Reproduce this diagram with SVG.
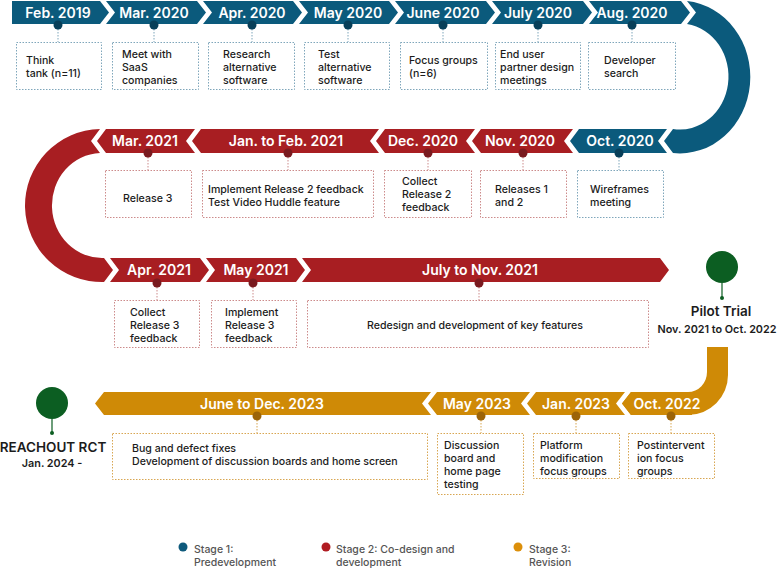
<svg xmlns="http://www.w3.org/2000/svg" width="777" height="568" viewBox="0 0 777 568">
<style>
text{font-family:Inter,"Liberation Sans",sans-serif}
.hd{font-size:14px;font-weight:600;fill:#fff;text-anchor:middle}
.tx{font-size:10.6px;font-weight:500;fill:#1c1c1c}
.c{text-anchor:middle}
.s1{fill:#0b5a7c}.s2{fill:#a81e22}.s3{fill:#cf8a06}
.d1{fill:#083f59}.d2{fill:#7a1b20}.d3{fill:#9c6409}
.box{fill:#fff;stroke-width:1;stroke-dasharray:1.5 1.5}
.k1{stroke:#7fa6bb}.k2{stroke:#cc8b8b}.k3{stroke:#d8a652}
.ln{fill:none;stroke-width:1;stroke-dasharray:1.5 1.5}
.gr{fill:#0c5e22}
.big{font-size:13.5px;font-weight:600;fill:#1c1c1c;text-anchor:middle}
.sub{font-size:10.8px;font-weight:600;fill:#1c1c1c;text-anchor:middle}
.lg{font-size:10.5px;font-weight:500;fill:#555}
</style>

<g id="track">
<path class="s1" d="M687,1 A70,76 0 0 1 673,153 L664,141 L673,129 A48,52.5 0 0 0 687,24 L696,12.5 Z"/>
<path class="s2" d="M100,129 L91,141 L100,153 A50,52.5 0 0 0 104,258 L113,270 L104,282 A77,76.5 0 0 1 100,129 Z"/>
<path class="s3" d="M707,347 L728,347 L728,375 A40,40 0 0 1 688,415 L631,415 L622,403.5 L631,392 L688,392 A19,20 0 0 0 707,372 Z"/>
</g>

<g id="connectors">
<path class="ln k1" d="M58,29V42M154,29V42M252,29V42M348,29V42M443,29V42M538,29V42M632,29V42M619,157V170"/>
<path class="ln k2" d="M523,157V170M428,157V170M288,157V170M148,157V170M157,287V300M253,287V300M479,287V300"/>
<path class="ln k3" d="M671,420V433M576,420V433M481,420V433M257,420V433"/>
<path d="M722,283V297M52,419V432" stroke="#0c5e22" stroke-width="1.2"/>
</g>

<g id="feb2019">
<polygon class="s1" points="12,1 100,1 109,12.5 100,24 12,24"/>
<text class="hd" x="58" y="17.5">Feb. 2019</text>
<circle class="d1" cx="58" cy="25" r="4.5"/>
<rect class="box k1" x="16.5" y="42.5" width="85" height="47"/>
<text class="tx" x="26" y="64">Think</text><text class="tx" x="26" y="77">tank (n=11)</text>
</g>
<g id="mar2020">
<polygon class="s1" points="106,1 197,1 206,12.5 197,24 106,24 115,12.5"/>
<text class="hd" x="154" y="17.5">Mar. 2020</text>
<circle class="d1" cx="154" cy="25" r="4.5"/>
<rect class="box k1" x="112.5" y="42.5" width="86" height="47"/>
<text class="tx" x="122" y="58">Meet with</text><text class="tx" x="122" y="71">SaaS</text><text class="tx" x="122" y="84">companies</text>
</g>
<g id="apr2020">
<polygon class="s1" points="203,1 293,1 302,12.5 293,24 203,24 212,12.5"/>
<text class="hd" x="252" y="17.5">Apr. 2020</text>
<circle class="d1" cx="252" cy="25" r="4.5"/>
<rect class="box k1" x="208.5" y="42.5" width="86" height="47"/>
<text class="tx" x="223" y="58">Research</text><text class="tx" x="223" y="71">alternative</text><text class="tx" x="223" y="84">software</text>
</g>
<g id="may2020">
<polygon class="s1" points="299,1 389,1 398,12.5 389,24 299,24 308,12.5"/>
<text class="hd" x="348" y="17.5">May 2020</text>
<circle class="d1" cx="348" cy="25" r="4.5"/>
<rect class="box k1" x="304.5" y="42.5" width="85" height="47"/>
<text class="tx" x="318" y="58">Test</text><text class="tx" x="318" y="71">alternative</text><text class="tx" x="318" y="84">software</text>
</g>
<g id="jun2020">
<polygon class="s1" points="395,1 486,1 495,12.5 486,24 395,24 404,12.5"/>
<text class="hd" x="443" y="17.5">June 2020</text>
<circle class="d1" cx="443" cy="25" r="4.5"/>
<rect class="box k1" x="400.5" y="42.5" width="87" height="47"/>
<text class="tx" x="409" y="64">Focus groups</text><text class="tx" x="409" y="77">(n=6)</text>
</g>
<g id="jul2020">
<polygon class="s1" points="492,1 583,1 592,12.5 583,24 492,24 501,12.5"/>
<text class="hd" x="538" y="17.5">July 2020</text>
<circle class="d1" cx="538" cy="25" r="4.5"/>
<rect class="box k1" x="495.5" y="42.5" width="85" height="47"/>
<text class="tx" x="500" y="58">End user</text><text class="tx" x="500" y="71">partner design</text><text class="tx" x="500" y="84">meetings</text>
</g>
<g id="aug2020">
<polygon class="s1" points="589,1 681,1 690,12.5 681,24 589,24 598,12.5"/>
<text class="hd" x="632" y="17.5">Aug. 2020</text>
<circle class="d1" cx="632" cy="25" r="4.5"/>
<rect class="box k1" x="588.5" y="42.5" width="87" height="47"/>
<text class="tx" x="604" y="64">Developer</text><text class="tx" x="604" y="77">search</text>
</g>

<g id="oct2020">
<polygon class="s1" points="570,141 579,129 667,129 658,141 667,153 579,153"/>
<text class="hd" x="620" y="146">Oct. 2020</text>
<circle class="d1" cx="619" cy="153" r="4.5"/>
<rect class="box k1" x="577.5" y="170.5" width="86" height="47"/>
<text class="tx" x="590" y="193">Wireframes</text><text class="tx" x="590" y="206">meeting</text>
</g>
<g id="nov2020">
<polygon class="s2" points="472,141 481,129 573,129 564,141 573,153 481,153"/>
<text class="hd" x="520" y="146">Nov. 2020</text>
<circle class="d2" cx="523" cy="153" r="4.5"/>
<rect class="box k2" x="480.5" y="170.5" width="86" height="47"/>
<text class="tx" x="495" y="193">Releases 1</text><text class="tx" x="495" y="206">and 2</text>
</g>
<g id="dec2020">
<polygon class="s2" points="376,141 385,129 475,129 466,141 475,153 385,153"/>
<text class="hd" x="423" y="146">Dec. 2020</text>
<circle class="d2" cx="428" cy="153" r="4.5"/>
<rect class="box k2" x="384.5" y="170.5" width="87" height="47"/>
<text class="tx" x="402" y="185">Collect</text><text class="tx" x="402" y="198">Release 2</text><text class="tx" x="402" y="211">feedback</text>
</g>
<g id="janfeb2021">
<polygon class="s2" points="192,141 201,129 379,129 370,141 379,153 201,153"/>
<text class="hd" x="286" y="146">Jan. to Feb. 2021</text>
<circle class="d2" cx="288" cy="153" r="4.5"/>
<rect class="box k2" x="202.5" y="170.5" width="171" height="47"/>
<text class="tx" x="208" y="193">Implement Release 2 feedback</text><text class="tx" x="208" y="206">Test Video Huddle feature</text>
</g>
<g id="mar2021">
<polygon class="s2" points="97,141 106,129 195,129 186,141 195,153 106,153"/>
<text class="hd" x="145" y="146">Mar. 2021</text>
<circle class="d2" cx="148" cy="153" r="4.5"/>
<rect class="box k2" x="105.5" y="170.5" width="86" height="47"/>
<text class="tx" x="123" y="202">Release 3</text>
</g>

<g id="apr2021">
<polygon class="s2" points="110,258 200,258 209,270 200,282 110,282 119,270"/>
<text class="hd" x="159" y="275">Apr. 2021</text>
<circle class="d2" cx="157" cy="283" r="4.5"/>
<rect class="box k2" x="114.5" y="300.5" width="85" height="47"/>
<text class="tx" x="130" y="316">Collect</text><text class="tx" x="130" y="329">Release 3</text><text class="tx" x="130" y="342">feedback</text>
</g>
<g id="may2021">
<polygon class="s2" points="206,258 296,258 305,270 296,282 206,282 215,270"/>
<text class="hd" x="256" y="275">May 2021</text>
<circle class="d2" cx="253" cy="283" r="4.5"/>
<rect class="box k2" x="211.5" y="300.5" width="85" height="47"/>
<text class="tx" x="225" y="316">Implement</text><text class="tx" x="225" y="329">Release 3</text><text class="tx" x="225" y="342">feedback</text>
</g>
<g id="julnov2021">
<polygon class="s2" points="302,258 660,258 669,270 660,282 302,282 311,270"/>
<text class="hd" x="480" y="275">July to Nov. 2021</text>
<circle class="d2" cx="479" cy="283" r="4.5"/>
<rect class="box k2" x="307.5" y="300.5" width="341" height="47"/>
<text class="tx c" x="475" y="329">Redesign and development of key features</text>
</g>

<g id="pilot">
<circle class="gr" cx="722" cy="267" r="16"/>
<circle class="gr" cx="722" cy="298" r="2"/>
<text class="big" x="721" y="316">Pilot Trial</text>
<text class="sub" x="717" y="333">Nov. 2021 to Oct. 2022</text>
</g>

<g id="oct2022">
<polygon class="s3" points="622,403.5 631,392 692,392 692,415 631,415"/>
<text class="hd" x="667" y="408.5">Oct. 2022</text>
<circle class="d3" cx="671" cy="416" r="4.5"/>
<rect class="box k3" x="628.5" y="433.5" width="86" height="45"/>
<text class="tx" x="637" y="449">Postintervent</text><text class="tx" x="637" y="462">ion focus</text><text class="tx" x="637" y="475">groups</text>
</g>
<g id="jan2023">
<polygon class="s3" points="527,403.5 536,392 625,392 616,403.5 625,415 536,415"/>
<text class="hd" x="576" y="408.5">Jan. 2023</text>
<circle class="d3" cx="576" cy="416" r="4.5"/>
<rect class="box k3" x="533.5" y="433.5" width="86" height="45"/>
<text class="tx" x="540" y="449">Platform</text><text class="tx" x="540" y="462">modification</text><text class="tx" x="540" y="475">focus groups</text>
</g>
<g id="may2023">
<polygon class="s3" points="428,403.5 437,392 530,392 521,403.5 530,415 437,415"/>
<text class="hd" x="477" y="408.5">May 2023</text>
<circle class="d3" cx="481" cy="416" r="4.5"/>
<rect class="box k3" x="437.5" y="433.5" width="86" height="61"/>
<text class="tx" x="444" y="449">Discussion</text><text class="tx" x="444" y="462">board and</text><text class="tx" x="444" y="475">home page</text><text class="tx" x="444" y="488">testing</text>
</g>
<g id="junedec2023">
<polygon class="s3" points="95,403.5 104,392 431,392 422,403.5 431,415 104,415"/>
<text class="hd" x="262" y="408.5">June to Dec. 2023</text>
<circle class="d3" cx="257" cy="416" r="4.5"/>
<rect class="box k3" x="112.5" y="433.5" width="315" height="46"/>
<text class="tx" x="132" y="452">Bug and defect fixes</text><text class="tx" x="132" y="465">Development of discussion boards and home screen</text>
</g>

<g id="reachout">
<circle class="gr" cx="52" cy="403" r="16"/>
<circle class="gr" cx="52" cy="433" r="2"/>
<text class="big" x="53" y="452">REACHOUT RCT</text>
<text class="sub" x="52" y="467">Jan. 2024 -</text>
</g>

<g id="legend">
<circle cx="183" cy="547" r="4.5" fill="#0e5a7c"/>
<text class="lg" x="194" y="553">Stage 1:</text><text class="lg" x="194" y="566">Predevelopment</text>
<circle cx="326" cy="547" r="4.5" fill="#b01c22"/>
<text class="lg" x="336" y="553">Stage 2: Co-design and</text><text class="lg" x="336" y="566">development</text>
<circle cx="518" cy="547" r="4.5" fill="#dc8f0a"/>
<text class="lg" x="529" y="553">Stage 3:</text><text class="lg" x="529" y="566">Revision</text>
</g>
</svg>
